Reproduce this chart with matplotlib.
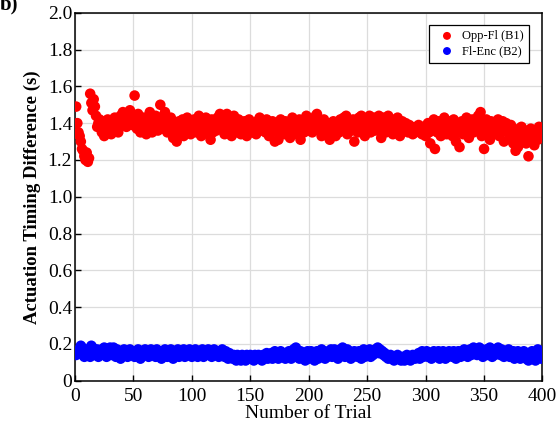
import numpy as np
import matplotlib
matplotlib.use('Agg')
import matplotlib.pyplot as plt

# ---data---
trial = np.arange(1, 401)

opp_fl_b1 = [
    1.49, 1.40, 1.35, 1.33, 1.30, 1.26, 1.25, 1.22, 1.20, 1.24, 1.19, 1.21, 1.56, 1.51, 1.47, 1.53, 1.49, 1.44, 1.38, 1.40,
    1.42, 1.38, 1.35, 1.41, 1.33, 1.36, 1.40, 1.42, 1.37, 1.39, 1.34, 1.41, 1.38, 1.43, 1.36, 1.40, 1.35, 1.42, 1.44, 1.39,
    1.46, 1.41, 1.45, 1.38, 1.43, 1.40, 1.47, 1.42, 1.39, 1.44, 1.55, 1.41, 1.37, 1.45, 1.38, 1.35, 1.40, 1.36, 1.43, 1.39,
    1.34, 1.37, 1.41, 1.46, 1.39, 1.35, 1.42, 1.38, 1.44, 1.40, 1.36, 1.43, 1.50, 1.41, 1.37, 1.39, 1.46, 1.42, 1.35, 1.40,
    1.38, 1.43, 1.36, 1.32, 1.40, 1.37, 1.30, 1.34, 1.41, 1.38, 1.35, 1.42, 1.33, 1.39, 1.36, 1.43, 1.38, 1.40, 1.34, 1.41,
    1.37, 1.42, 1.39, 1.35, 1.40, 1.44, 1.38, 1.33, 1.41, 1.36, 1.39, 1.43, 1.37, 1.34, 1.40, 1.31, 1.42, 1.35, 1.39, 1.41,
    1.36, 1.43, 1.38, 1.45, 1.40, 1.37, 1.42, 1.34, 1.39, 1.45, 1.36, 1.41, 1.38, 1.33, 1.40, 1.44, 1.37, 1.39, 1.35, 1.42,
    1.38, 1.34, 1.40, 1.36, 1.41, 1.37, 1.33, 1.39, 1.42, 1.36, 1.38, 1.35, 1.40, 1.37, 1.34, 1.41, 1.38, 1.43, 1.36, 1.39,
    1.37, 1.40, 1.35, 1.42, 1.38, 1.33, 1.39, 1.36, 1.41, 1.37, 1.30, 1.40, 1.35, 1.31, 1.38, 1.42, 1.36, 1.39, 1.34, 1.41,
    1.38, 1.35, 1.40, 1.32, 1.37, 1.43, 1.39, 1.36, 1.41, 1.34, 1.38, 1.42, 1.31, 1.37, 1.40, 1.35, 1.39, 1.44, 1.36, 1.41,
    1.38, 1.42, 1.35, 1.40, 1.37, 1.44, 1.45, 1.39, 1.36, 1.41, 1.33, 1.38, 1.42, 1.37, 1.34, 1.40, 1.36, 1.31, 1.39, 1.35,
    1.41, 1.37, 1.33, 1.40, 1.38, 1.35, 1.42, 1.39, 1.36, 1.43, 1.38, 1.44, 1.34, 1.40, 1.37, 1.41, 1.36, 1.42, 1.30, 1.38,
    1.40, 1.35, 1.43, 1.38, 1.44, 1.36, 1.41, 1.33, 1.39, 1.42, 1.37, 1.44, 1.35, 1.40, 1.38, 1.43, 1.36, 1.41, 1.39, 1.44,
    1.37, 1.32, 1.40, 1.43, 1.38, 1.35, 1.41, 1.44, 1.36, 1.39, 1.42, 1.34, 1.38, 1.40, 1.36, 1.43, 1.39, 1.33, 1.37, 1.41,
    1.38, 1.36, 1.40, 1.37, 1.35, 1.39, 1.36, 1.38, 1.34, 1.37, 1.35, 1.38, 1.36, 1.39, 1.35, 1.37, 1.34, 1.38, 1.36, 1.33,
    1.37, 1.40, 1.35, 1.29, 1.38, 1.36, 1.42, 1.26, 1.39, 1.35, 1.41, 1.37, 1.33, 1.40, 1.36, 1.43, 1.38, 1.34, 1.39, 1.41,
    1.36, 1.39, 1.33, 1.42, 1.37, 1.30, 1.40, 1.35, 1.27, 1.38, 1.41, 1.34, 1.39, 1.36, 1.43, 1.38, 1.32, 1.40, 1.37, 1.42,
    1.35, 1.39, 1.41, 1.36, 1.44, 1.38, 1.46, 1.33, 1.40, 1.26, 1.37, 1.42, 1.35, 1.39, 1.31, 1.41, 1.37, 1.34, 1.40, 1.36,
    1.38, 1.42, 1.33, 1.39, 1.36, 1.41, 1.30, 1.38, 1.40, 1.35, 1.37, 1.32, 1.39, 1.36, 1.29, 1.34, 1.25, 1.30, 1.27, 1.37,
    1.33, 1.38, 1.35, 1.31, 1.36, 1.29, 1.34, 1.22, 1.32, 1.37, 1.30, 1.35, 1.28, 1.33, 1.36, 1.31, 1.38, 1.34, 1.36, 1.35,
]

fl_enc_b2 = [
    0.14, 0.16, 0.15, 0.17, 0.19, 0.18, 0.15, 0.13, 0.16, 0.14, 0.17, 0.15, 0.13, 0.19, 0.18, 0.16, 0.14, 0.15, 0.17, 0.13,
    0.16, 0.14, 0.17, 0.15, 0.18, 0.16, 0.13, 0.17, 0.15, 0.18, 0.14, 0.16, 0.18, 0.15, 0.13, 0.17, 0.16, 0.14, 0.12, 0.16,
    0.15, 0.17, 0.14, 0.16, 0.13, 0.15, 0.17, 0.14, 0.16, 0.15, 0.13, 0.16, 0.14, 0.17, 0.15, 0.12, 0.16, 0.14, 0.15, 0.17,
    0.14, 0.16, 0.13, 0.15, 0.17, 0.14, 0.16, 0.15, 0.13, 0.17, 0.14, 0.16, 0.15, 0.12, 0.16, 0.14, 0.17, 0.15, 0.13, 0.16,
    0.14, 0.17, 0.15, 0.12, 0.16, 0.14, 0.15, 0.17, 0.13, 0.16, 0.14, 0.15, 0.17, 0.13, 0.16, 0.15, 0.14, 0.17, 0.15, 0.13,
    0.16, 0.14, 0.17, 0.15, 0.13, 0.16, 0.14, 0.15, 0.17, 0.13, 0.16, 0.14, 0.15, 0.17, 0.14, 0.16, 0.13, 0.15, 0.17, 0.14,
    0.16, 0.15, 0.13, 0.16, 0.14, 0.17, 0.15, 0.13, 0.16, 0.14, 0.12, 0.15, 0.13, 0.14, 0.12, 0.14, 0.13, 0.11, 0.14, 0.12,
    0.13, 0.11, 0.14, 0.12, 0.13, 0.11, 0.14, 0.12, 0.13, 0.14, 0.12, 0.13, 0.11, 0.14, 0.12, 0.13, 0.14, 0.12, 0.13, 0.11,
    0.14, 0.12, 0.13, 0.15, 0.12, 0.14, 0.13, 0.15, 0.12, 0.14, 0.16, 0.13, 0.15, 0.12, 0.14, 0.16, 0.13, 0.15, 0.14, 0.12,
    0.15, 0.13, 0.16, 0.14, 0.12, 0.15, 0.17, 0.14, 0.18, 0.13, 0.15, 0.12, 0.16, 0.14, 0.13, 0.15, 0.11, 0.14, 0.16, 0.12,
    0.14, 0.16, 0.13, 0.15, 0.11, 0.14, 0.16, 0.12, 0.15, 0.13, 0.17, 0.14, 0.16, 0.12, 0.15, 0.13, 0.16, 0.14, 0.17, 0.13,
    0.15, 0.17, 0.14, 0.16, 0.12, 0.15, 0.17, 0.14, 0.18, 0.16, 0.13, 0.15, 0.17, 0.14, 0.16, 0.12, 0.15, 0.13, 0.16, 0.14,
    0.15, 0.13, 0.16, 0.14, 0.12, 0.15, 0.17, 0.13, 0.16, 0.14, 0.15, 0.17, 0.13, 0.16, 0.14, 0.15, 0.17, 0.16, 0.18, 0.15,
    0.17, 0.15, 0.16, 0.14, 0.15, 0.13, 0.14, 0.12, 0.13, 0.14, 0.12, 0.13, 0.11, 0.13, 0.12, 0.14, 0.12, 0.13, 0.11, 0.12,
    0.13, 0.11, 0.12, 0.14, 0.12, 0.13, 0.11, 0.12, 0.14, 0.13, 0.12, 0.14, 0.13, 0.15, 0.12, 0.14, 0.16, 0.13, 0.15, 0.14,
    0.16, 0.13, 0.15, 0.14, 0.12, 0.15, 0.16, 0.13, 0.15, 0.14, 0.16, 0.12, 0.15, 0.13, 0.16, 0.14, 0.12, 0.15, 0.13, 0.16,
    0.14, 0.15, 0.13, 0.16, 0.14, 0.12, 0.15, 0.16, 0.14, 0.13, 0.16, 0.15, 0.17, 0.14, 0.16, 0.13, 0.15, 0.17, 0.14, 0.16,
    0.18, 0.15, 0.17, 0.14, 0.16, 0.18, 0.15, 0.17, 0.13, 0.16, 0.15, 0.17, 0.14, 0.16, 0.18, 0.15, 0.13, 0.16, 0.14, 0.17,
    0.15, 0.18, 0.16, 0.14, 0.17, 0.15, 0.13, 0.16, 0.14, 0.15, 0.17, 0.13, 0.15, 0.14, 0.16, 0.12, 0.15, 0.13, 0.16, 0.14,
    0.12, 0.15, 0.13, 0.16, 0.14, 0.12, 0.15, 0.11, 0.14, 0.13, 0.16, 0.12, 0.15, 0.11, 0.14, 0.17, 0.13, 0.16, 0.12, 0.15,
]

x_ticks = [0, 50, 100, 150, 200, 250, 300, 350, 400]
y_ticks = [0, 0.2, 0.4, 0.6, 0.8, 1.0, 1.2, 1.4, 1.6, 1.8, 2.0]
y_ticklabels = ['0', '0.2', '0.4', '0.6', '0.8', '1.0', '1.2', '1.4', '1.6', '1.8', '2.0']

plt.rcParams['font.family'] = ['Liberation Serif', 'DejaVu Serif']

fig = plt.figure(figsize=(5.58, 4.26), dpi=100)
ax = fig.add_axes([0.1344, 0.1063, 0.8378, 0.8637])

ax.scatter(trial, opp_fl_b1, s=58, color='#ff0000', edgecolors='none', label='Opp-Fl (B1)', zorder=3)
ax.scatter(trial, fl_enc_b2, s=58, color='#0000ff', edgecolors='none', label='Fl-Enc (B2)', zorder=3)

ax.set_xlim(0, 400)
ax.set_ylim(0, 2.0)
ax.set_xticks(x_ticks)
ax.set_yticks(y_ticks)
ax.set_yticklabels(y_ticklabels)
ax.tick_params(direction='in', length=4, width=1, labelsize=14, pad=2)
ax.tick_params(axis='x', pad=5)
ax.grid(True, color='#dcdcdc', linewidth=0.9, zorder=0)
ax.set_axisbelow(True)
for sp in ax.spines.values():
    sp.set_linewidth(1.1)

ax.set_xlabel('Number of Trial', fontsize=14, labelpad=0)
ax.set_ylabel('Actuation Timing Difference (s)', fontsize=13.5, fontweight='bold', labelpad=5)

leg = ax.legend(loc='upper right', fontsize=9, frameon=True, fancybox=False,
                edgecolor='black', framealpha=1, handletextpad=0.2, borderpad=0.45,
                labelspacing=0.25, markerscale=0.75, bbox_to_anchor=(0.985, 0.985))
leg.get_frame().set_linewidth(0.9)

fig.text(0.0, 1 - 9 / 426, 'b)', fontsize=15, fontweight='bold', va='baseline', ha='left')

plt.savefig('out.png', dpi=100)
